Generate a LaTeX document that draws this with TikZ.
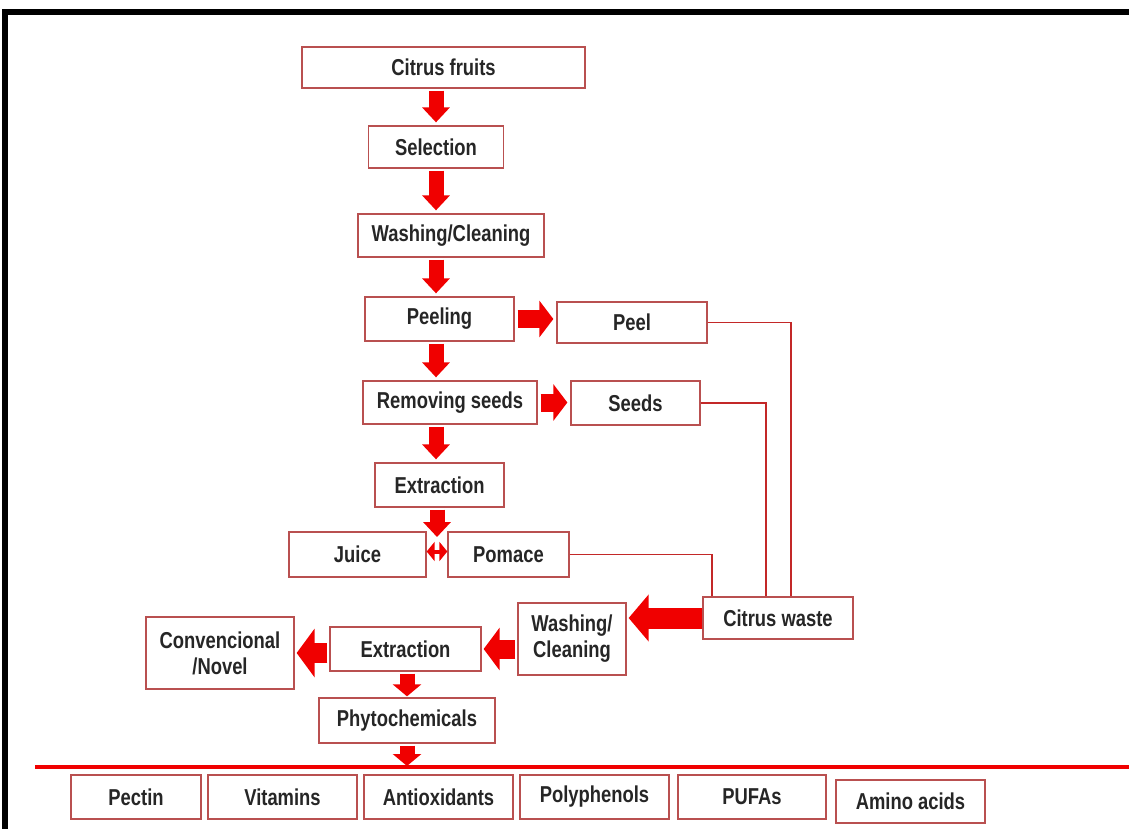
\documentclass[tikz,border=0pt]{standalone}
\usepackage{fontspec}
\setmainfont[FakeStretch=0.8]{Liberation Sans}
\usetikzlibrary{positioning,arrows.meta}
\definecolor{boxline}{RGB}{185,80,80}
\definecolor{linkred}{RGB}{195,40,40}
\definecolor{arrowred}{RGB}{240,0,0}
\tikzset{
  stage/.style={draw=boxline,line width=1.3pt,fill=white,text=black!85,align=center,inner sep=0pt,
    font=\bfseries\fontsize{23}{26}\selectfont},
  fatdown/.style={draw=arrowred,line width=15pt,-{Triangle[length=15pt,width=27pt]},shorten <=2pt,shorten >=3pt},
  fatside/.style={draw=arrowred,line width=18pt,-{Triangle[length=14pt,width=36pt]},shorten <=3pt,shorten >=3pt},
  link/.style={draw=linkred,line width=1.8pt}
}
\begin{document}
\begin{tikzpicture}[x=1pt,y=-1pt]
    \useasboundingbox (0,0) rectangle (1129,828);
    % frame
    \draw[line width=6pt,line join=miter] (5,831) -- (5,12) -- (1132,12);
    % main column
    \node[stage,minimum width=283pt,minimum height=41pt] (fruits) at (443.5,67.5) {Citrus fruits};
    \node[stage,minimum width=135pt,minimum height=42pt] (select) at (436,147) {Selection};
    \node[stage,minimum width=186pt,minimum height=43pt] (wash) at (451,235.5) {Washing/Cleaning};
    \node[stage,minimum width=149pt,minimum height=44pt] (peeling) at (439.5,319) {Peeling};
    \node[stage,minimum width=150pt,minimum height=41pt] (peel) at (632,322.5) {Peel};
    \node[stage,minimum width=174pt,minimum height=43pt] (seedsrm) at (450,402.5) {Removing seeds};
    \node[stage,minimum width=129pt,minimum height=44pt] (seeds) at (635.5,403) {Seeds};
    \node[stage,minimum width=129pt,minimum height=44pt] (extract) at (439.5,485) {Extraction};
    \node[stage,minimum width=137pt,minimum height=45pt] (juice) at (357.5,554.5) {Juice};
    \node[stage,minimum width=121pt,minimum height=45pt] (pomace) at (508.5,554.5) {Pomace};
    \coordinate (split) at (437,540);
    % waste branch
    \node[stage,minimum width=150pt,minimum height=42pt] (waste) at (778,618) {Citrus waste};
    \node[stage,minimum width=108pt,minimum height=72pt] (wash2) at (572,639) {Washing/\\Cleaning};
    \node[stage,minimum width=151pt,minimum height=44pt] (extract2) at (405.5,649) {Extraction};
    \node[stage,minimum width=148pt,minimum height=72pt] (novel) at (220,653) {Convencional\\/Novel};
    \node[stage,minimum width=176pt,minimum height=45pt] (phyto) at (407,720.5) {Phytochemicals};
    % products
    \coordinate (busL) at (35,767);
    \coordinate (busR) at (1129,767);
    \node[stage,minimum width=130pt,minimum height=44pt] (pectin) at (136,797) {Pectin};
    \node[stage,minimum width=149pt,minimum height=44pt] (vitamins) at (282.5,797) {Vitamins};
    \node[stage,minimum width=149pt,minimum height=44pt] (antiox) at (438.5,797) {Antioxidants};
    \node[stage,minimum width=149pt,minimum height=44pt] (polyph) at (594.5,797) {Polyphenols};
    \node[stage,minimum width=148pt,minimum height=44pt] (pufas) at (752,797) {PUFAs};
    \node[stage,minimum width=149pt,minimum height=43pt] (amino) at (910.5,801.5) {Amino acids};

    % arrows
    \draw[fatdown] (select.north |- fruits.south) -- (select.north);
    \draw[fatdown] (select.south) -- (select.south |- wash.north);
    \draw[fatdown] (select.south |- wash.south) -- (select.south |- peeling.north);
    \draw[fatdown] (select.south |- peeling.south) -- (select.south |- seedsrm.north);
    \draw[fatdown] (select.south |- seedsrm.south) -- (select.south |- extract.north);
    \draw[fatdown] (extract.south -| split) -- (split);
    \draw[fatside] (peeling.east) -- (peeling.east -| peel.west);
    \draw[fatside] (seedsrm.east) -- (seedsrm.east -| seeds.west);
    \draw[draw=arrowred,line width=4pt,{Triangle[length=8pt,width=19pt]}-{Triangle[length=8pt,width=19pt]}] ([yshift=3pt]juice.east) -- ([yshift=3pt]pomace.west);
    \draw[link] (peel.east) -| ([xshift=13pt]waste.north);
    \draw[link] (seeds.east) -| ([xshift=-12pt]waste.north);
    \draw[link] (pomace.east) -| ([xshift=-66pt]waste.north);
    \draw[draw=arrowred,line width=21pt,-{Triangle[length=20pt,width=46pt]},shorten >=2pt] (waste.west) -- (waste.west -| wash2.east);
    \draw[draw=arrowred,line width=19pt,-{Triangle[length=16pt,width=42pt]},shorten <=2pt,shorten >=2pt] (wash2.west |- extract2.east) -- (extract2.east);
    \draw[draw=arrowred,line width=20pt,-{Triangle[length=18pt,width=48pt]},shorten <=2pt,shorten >=2pt] (extract2.west |- novel.east) -- (novel.east);
    \draw[fatdown,-{Triangle[length=12pt,width=28pt]},shorten >=1pt] (extract2.south -| phyto.north) -- (phyto.north);
    \draw[fatdown,-{Triangle[length=12pt,width=28pt]},shorten >=1pt] (phyto.south) -- (phyto.south |- busL);
    \draw[arrowred,line width=4pt] (busL) -- (busR);
\end{tikzpicture}
\end{document}
